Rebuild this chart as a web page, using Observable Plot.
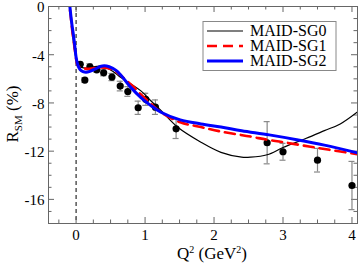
<!DOCTYPE html>
<html><head><meta charset="utf-8">
<script src="https://cdn.jsdelivr.net/npm/d3@7"></script>
<script src="https://cdn.jsdelivr.net/npm/@observablehq/plot@0.6"></script>
<style>body{margin:0;background:#fff}#chart{width:360px;height:264px}</style>
</head><body><div id="chart"></div>
<script>
// MAID-SG0 curve
const sg0Q = [-0.11,-0.09,-0.08,-0.06,-0.04,-0.02,0,0.03,0.08,0.15,0.25,0.35,0.45,0.55,0.65,0.8,0.94,1.08,1.23,1.47,1.81,2.1,2.4,2.53,2.77,3.0,3.33,3.6,3.83,4.1];
const sg0R = [1.0,0.3,-0.6,-1.9,-2.9,-3.7,-4.35,-4.85,-5.05,-5.1,-5.0,-4.95,-5.1,-5.45,-5.9,-6.45,-7.0,-7.8,-8.63,-10.0,-11.26,-12.1,-12.5,-12.5,-12.3,-11.7,-10.95,-10.3,-9.74,-8.65];
// MAID-SG1 curve
const sg1Q = [-0.11,-0.1,-0.08,-0.06,-0.04,-0.02,0,0.02,0.05,0.1,0.17,0.25,0.35,0.45,0.58,0.7,0.82,0.94,1.08,1.23,1.51,1.81,2.1,2.53,2.77,3.0,3.5,4.1];
const sg1R = [1.0,0.3,-0.7,-1.8,-2.7,-3.5,-4.35,-4.85,-5.04,-5.12,-5.17,-5.12,-5.05,-5.1,-5.4,-6.0,-6.6,-7.3,-8.05,-8.77,-9.6,-10.0,-10.37,-10.79,-11.05,-11.25,-11.73,-12.27];
// MAID-SG2 curve
const sg2Q = [-0.1,-0.09,-0.075,-0.06,-0.04,-0.02,0,0.025,0.06,0.1,0.145,0.2,0.29,0.35,0.41,0.48,0.58,0.65,0.8,0.94,1.08,1.23,1.51,1.81,2.1,2.4,2.8,3.2,3.6,4.1];
const sg2R = [0.8,0,-0.8,-1.5,-2.3,-3.2,-4.2,-4.85,-5.25,-5.4,-5.45,-5.38,-5.15,-4.98,-4.92,-5.0,-5.3,-5.7,-6.75,-7.55,-8.2,-8.77,-9.4,-9.74,-10.0,-10.3,-10.65,-11.05,-11.5,-12.17];
// data points
const ptQ = [0.06,0.127,0.2,0.3,0.4,0.52,0.64,0.75,0.9,1.01,1.15,1.45,2.77,3.0,3.5,4.0];
const ptR = [-4.8,-6.1,-5.0,-5.25,-5.5,-5.85,-6.6,-7.05,-8.4,-7.7,-8.35,-10.15,-11.3,-12.05,-12.75,-14.85];
const ptE = [0.2,0.2,0.25,0.2,0.25,0.3,0.4,0.4,0.55,0.5,0.6,0.8,1.75,0.7,0.98,2.0];
// ticks
const xMajor = [0,1,2,3,4];
const xMinor = [-0.25,0.25,0.5,0.75,1.25,1.5,1.75,2.25,2.5,2.75,3.25,3.5,3.75];
const yMajor = [-16,-12,-8,-4,0];
const yMinor = [-17,-15,-14,-13,-11,-10,-9,-7,-6,-5,-3,-2,-1];
const seriesNames = ["MAID-SG0","MAID-SG1","MAID-SG2"];
const seriesColors = ["#000000","#ff0000","#0000ff"];
const seriesWidths = [1.2,2.6,3];
const seriesDash = [null,"10,6",null];

const mk = (Q,R)=>Q.map((q,i)=>({q,r:R[i]}));
const curves = [mk(sg0Q,sg0R), mk(sg1Q,sg1R), mk(sg2Q,sg2R)];
const pts = ptQ.map((q,i)=>({q,r:ptR[i],e:ptE[i]}));

const W=360,H=264,mL=48,mR=3,mT=6,mB=41;
const fw=W-mL-mR, fh=H-mT-mB;
const tc="#666";
const major=6, minor=3.5;

const marks = [
  Plot.ruleX([0],{stroke:"black",strokeWidth:1,strokeDasharray:"4,3"}),
  Plot.ruleX(xMajor,{stroke:tc,insetTop:fh-major}),
  Plot.ruleX(xMinor,{stroke:tc,insetTop:fh-minor}),
  Plot.ruleX(xMajor,{stroke:tc,insetBottom:fh-major}),
  Plot.ruleX(xMinor,{stroke:tc,insetBottom:fh-minor}),
  Plot.ruleY(yMajor,{stroke:tc,insetRight:fw-major}),
  Plot.ruleY(yMinor,{stroke:tc,insetRight:fw-minor}),
  Plot.ruleY(yMajor,{stroke:tc,insetLeft:fw-major}),
  Plot.ruleY(yMinor,{stroke:tc,insetLeft:fw-minor}),
  Plot.ruleX(pts,{x:"q",y1:d=>d.r-d.e,y2:d=>d.r+d.e,stroke:"#888",strokeWidth:1.2,clip:true}),
  Plot.ruleY(pts,{y:d=>d.r-d.e,x1:"q",x2:"q",insetLeft:-3,insetRight:-3,stroke:"#888",strokeWidth:1.2,clip:true}),
  Plot.ruleY(pts,{y:d=>d.r+d.e,x1:"q",x2:"q",insetLeft:-3,insetRight:-3,stroke:"#888",strokeWidth:1.2,clip:true}),
  Plot.dot(pts,{x:"q",y:"r",r:3.6,fill:"black",stroke:null}),
  ...curves.map((c,i)=>Plot.line(c,{x:"q",y:"r",stroke:seriesColors[i],strokeWidth:seriesWidths[i],strokeDasharray:seriesDash[i]||undefined,curve:"catmull-rom",clip:true})),
  Plot.frame({stroke:tc}),
  Plot.axisX({ticks:xMajor,tickSize:0,tickPadding:6,tickFormat:d=>String(d),label:null}),
  Plot.axisY({ticks:yMajor,tickSize:0,tickPadding:4,tickFormat:d=>String(d),label:null,dy:1})
];

const svg = Plot.plot({
  width:W,height:H,marginLeft:mL,marginRight:mR,marginTop:mT,marginBottom:mB,
  x:{domain:[-0.4,4.08]},
  y:{domain:[-18,0]},
  style:{fontFamily:"'Liberation Serif', 'Times New Roman', serif",fontSize:"15px",color:"black",background:"white"},
  marks
});
document.getElementById("chart").appendChild(svg);

const s = d3.select(svg);
const ff = "'Liberation Serif', 'Times New Roman', serif";
// x label
const xl = s.append("text").attr("x",212).attr("y",259).attr("text-anchor","middle")
  .attr("font-family",ff).attr("font-size",17).attr("fill","black");
xl.append("tspan").text("Q");
xl.append("tspan").attr("dy",-6).attr("font-size",10).text("2");
xl.append("tspan").attr("dy",6).text(" (GeV");
xl.append("tspan").attr("dy",-6).attr("font-size",10).text("2");
xl.append("tspan").attr("dy",6).text(")");
// y label
const yl = s.append("text").attr("transform","translate(18,114) rotate(-90)").attr("text-anchor","middle")
  .attr("font-family",ff).attr("font-size",17).attr("fill","black");
yl.append("tspan").text("R");
yl.append("tspan").attr("dy",4).attr("font-size",11).text("SM");
yl.append("tspan").attr("dy",-4).text(" (%)");
// legend
const lg = s.append("g");
lg.append("rect").attr("x",203).attr("y",21.5).attr("width",133).attr("height",49)
  .attr("fill","white").attr("stroke","#888").attr("stroke-width",1);
seriesNames.forEach((n,i)=>{
  const y = 31 + i*15;
  lg.append("line").attr("x1",207).attr("x2",243).attr("y1",y).attr("y2",y)
    .attr("stroke",seriesColors[i]).attr("stroke-width",seriesWidths[i])
    .attr("stroke-dasharray",seriesDash[i]);
  lg.append("text").attr("x",250).attr("y",y+5).attr("text-anchor","start")
    .attr("font-family",ff).attr("font-size",16).attr("fill","black").text(n);
});
</script>
</body></html>
